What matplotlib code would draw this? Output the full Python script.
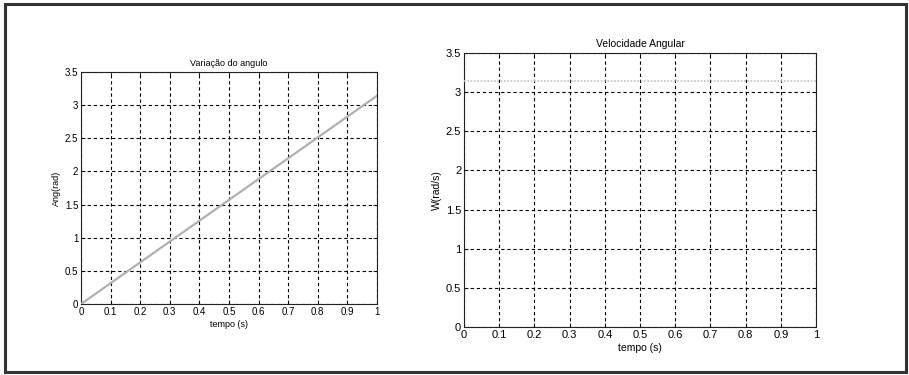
import matplotlib.pyplot as plt
from matplotlib.patches import Rectangle
import numpy as np

plt.rcParams.update({
    "font.family": ["Liberation Sans", "DejaVu Sans"],
    "font.size": 7,
})

# ── data ──────────────────────────────────────────────────────────────────
tempo = [0.0, 0.25, 0.5, 0.75, 1.0]
angulo = [0.0, 0.785, 1.571, 2.356, 3.1416]
velocidade = [3.1416, 3.1416, 3.1416, 3.1416, 3.1416]

xticks = [0, 0.1, 0.2, 0.3, 0.4, 0.5, 0.6, 0.7, 0.8, 0.9, 1]
xtick_labels = ["0", "0.1", "0.2", "0.3", "0.4", "0.5", "0.6", "0.7", "0.8", "0.9", "1"]
yticks = [0, 0.5, 1, 1.5, 2, 2.5, 3, 3.5]
ytick_labels = ["0", "0.5", "1", "1.5", "2", "2.5", "3", "3.5"]

W, H = 909, 375
fig = plt.figure(figsize=(W / 100, H / 100), dpi=100)

# outer frame
fig.patches.append(Rectangle((5 / W, 3 / H), 901 / W, 368 / H,
                             transform=fig.transFigure, fill=False,
                             edgecolor="#333333", linewidth=2.2))


def px_axes(x0, y0, x1, y1):
    return fig.add_axes([x0 / W, 1 - y1 / H, (x1 - x0) / W, (y1 - y0) / H])


def style(ax, fs):
    ax.set_xlim(0, 1)
    ax.set_ylim(0, 3.5)
    ax.set_xticks(xticks)
    ax.set_xticklabels(xtick_labels)
    ax.set_yticks(yticks)
    ax.set_yticklabels(ytick_labels)
    ax.tick_params(direction="in", length=3, width=0.6, labelsize=fs, pad=2,
                   top=True, right=True)
    ax.grid(True, color="black", linestyle=(0, (3, 2.5)), linewidth=0.8)
    for s in ax.spines.values():
        s.set_linewidth(0.8)
        s.set_color("#222222")


# ── left: angle ───────────────────────────────────────────────────────────
ax1 = px_axes(81, 72, 377, 304)
style(ax1, 7)
ax1.plot(tempo, angulo, color="#b0b0b0", linewidth=1.6, zorder=3)
ax1.set_title("Variação do angulo", fontsize=6.5, pad=4)
ax1.set_xlabel("tempo (s)", fontsize=6.5, labelpad=2)
ax1.set_ylabel("Ang(rad)", fontsize=6.5, labelpad=3)

# ── right: angular velocity ───────────────────────────────────────────────
ax2 = px_axes(464, 53, 816, 327)
style(ax2, 8)
ax2.plot(tempo, velocidade, color="#c0c0c0", linewidth=1.2,
         linestyle=(0, (1, 1)), zorder=3)
ax2.set_title("Velocidade Angular", fontsize=7.5, pad=4)
ax2.set_xlabel("tempo (s)", fontsize=7.5, labelpad=2)
ax2.set_ylabel("W(rad/s)", fontsize=7.5, labelpad=3)

fig.savefig("out.png", dpi=100)
plt.close(fig)
